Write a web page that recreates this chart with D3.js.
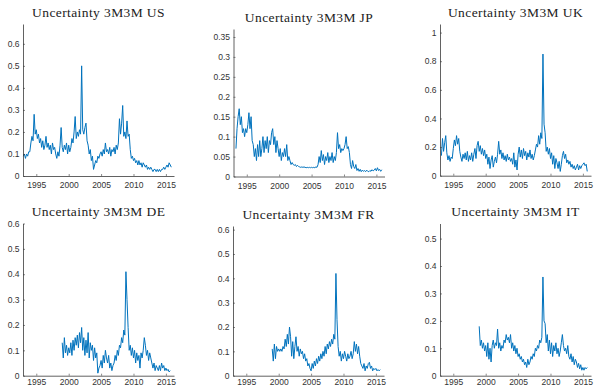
<!DOCTYPE html>
<html>
<head>
<meta charset="utf-8">
<script src="https://cdn.jsdelivr.net/npm/d3@7"></script>
<style>
  body { margin: 0; background: #fff; }
  svg { display: block; }
</style>
</head>
<body>
<svg id="chart" width="595" height="388"></svg>
<script>
// series sampled every two months (6 values per year)
const step = 1 / 6;

const titles = ['Uncertainty 3M3M US', 'Uncertainty 3M3M JP', 'Uncertainty 3M3M UK',
                'Uncertainty 3M3M DE', 'Uncertainty 3M3M FR', 'Uncertainty 3M3M IT'];
const startYears = [1993.0, 1993.33, 1993.17, 1999.0, 1999.0, 1999.0];
const yMax = [0.69, 0.37, 1.06, 0.6, 0.615, 0.555];
const yTicks = [
  [0, 0.1, 0.2, 0.3, 0.4, 0.5, 0.6],
  [0, 0.05, 0.1, 0.15, 0.2, 0.25, 0.3, 0.35],
  [0, 0.2, 0.4, 0.6, 0.8, 1],
  [0, 0.1, 0.2, 0.3, 0.4, 0.5, 0.6],
  [0, 0.1, 0.2, 0.3, 0.4, 0.5, 0.6],
  [0, 0.1, 0.2, 0.3, 0.4, 0.5]
];
const xTicks = [1995, 2000, 2005, 2010, 2015];
const xDomain = [1992.95, 2016.25];

const usValues = [
  0.09, 0.10, 0.08, 0.10, 0.09, 0.11,
  0.11, 0.15, 0.18, 0.16, 0.28, 0.19,
  0.21, 0.17, 0.19, 0.15, 0.17, 0.13,
  0.16, 0.12, 0.14, 0.18, 0.13, 0.15,
  0.12, 0.14, 0.10, 0.15, 0.12, 0.13,
  0.10, 0.08, 0.11, 0.09, 0.14, 0.22,
  0.13, 0.11, 0.14, 0.12, 0.15, 0.10,
  0.14, 0.11, 0.13, 0.17, 0.15, 0.20,
  0.27, 0.17, 0.20, 0.18, 0.21, 0.19,
  0.50, 0.21, 0.19, 0.22, 0.24, 0.16,
  0.14, 0.10, 0.12, 0.07, 0.09, 0.03,
  0.05, 0.07, 0.06, 0.09, 0.08, 0.10,
  0.11, 0.09, 0.12, 0.10, 0.15, 0.11,
  0.12, 0.10, 0.13, 0.09, 0.12, 0.11,
  0.13, 0.10, 0.14, 0.12, 0.15, 0.26,
  0.19, 0.24, 0.32, 0.18, 0.20, 0.17,
  0.25, 0.18, 0.19, 0.12, 0.08, 0.09,
  0.07, 0.08, 0.06, 0.07, 0.05, 0.07,
  0.05, 0.06, 0.04, 0.06, 0.05, 0.04,
  0.05, 0.03, 0.04, 0.03, 0.04, 0.03,
  0.02, 0.03, 0.03, 0.02, 0.03, 0.02,
  0.03, 0.02, 0.03, 0.03, 0.04, 0.03,
  0.04, 0.05, 0.04, 0.06, 0.05, 0.04
];

const jpValues = [
  0.07, 0.12, 0.15, 0.17,
  0.13, 0.15, 0.11, 0.12, 0.10, 0.12,
  0.11, 0.13, 0.16, 0.12, 0.15, 0.09,
  0.08, 0.05, 0.07, 0.04, 0.08, 0.05,
  0.09, 0.05, 0.07, 0.10, 0.06, 0.09,
  0.07, 0.10, 0.06, 0.09, 0.08, 0.11,
  0.12, 0.08, 0.10, 0.06, 0.09, 0.07,
  0.05, 0.07, 0.04, 0.06, 0.05, 0.07,
  0.05, 0.08, 0.04, 0.05, 0.04, 0.03,
  0.035, 0.03, 0.028, 0.03, 0.025, 0.028,
  0.025, 0.024, 0.023, 0.024, 0.023, 0.024,
  0.023, 0.022, 0.023, 0.022, 0.023, 0.022,
  0.023, 0.022, 0.023, 0.022, 0.024, 0.023,
  0.03, 0.05, 0.035, 0.065, 0.04, 0.055,
  0.03, 0.05, 0.04, 0.06, 0.035, 0.05,
  0.04, 0.06, 0.035, 0.05, 0.04, 0.06,
  0.11, 0.07, 0.08, 0.06, 0.07, 0.065,
  0.07, 0.08, 0.10, 0.07, 0.075, 0.06,
  0.03, 0.02, 0.04, 0.025, 0.02, 0.03,
  0.015, 0.02, 0.013, 0.018, 0.012, 0.016,
  0.013, 0.015, 0.012, 0.016, 0.013, 0.012,
  0.015, 0.013, 0.017, 0.014, 0.016, 0.02,
  0.014, 0.022, 0.015, 0.018, 0.013, 0.017
];

const ukValues = [
  0.14, 0.26, 0.17, 0.23, 0.28,
  0.16, 0.11, 0.14, 0.10, 0.13, 0.12,
  0.19, 0.25, 0.21, 0.28, 0.22, 0.26,
  0.17, 0.13, 0.10, 0.15, 0.12, 0.16,
  0.11, 0.17, 0.10, 0.14, 0.11, 0.16,
  0.10, 0.15, 0.19, 0.12, 0.21, 0.24,
  0.17, 0.21, 0.15, 0.19, 0.14, 0.18,
  0.12, 0.15, 0.08, 0.13, 0.05, 0.11,
  0.14, 0.06, 0.10, 0.13, 0.09, 0.15,
  0.24, 0.15, 0.18, 0.12, 0.16, 0.11,
  0.14, 0.10, 0.15, 0.11, 0.13, 0.10,
  0.12, 0.08, 0.16, 0.06, 0.11, 0.04,
  0.15, 0.20, 0.13, 0.18, 0.12, 0.19,
  0.14, 0.17, 0.11, 0.16, 0.13, 0.18,
  0.12, 0.15, 0.11, 0.14, 0.18, 0.22,
  0.20, 0.28, 0.22, 0.30, 0.26, 0.85,
  0.36, 0.30, 0.17, 0.20, 0.15, 0.19,
  0.12, 0.16, 0.08, 0.14, 0.05, 0.12,
  0.09, 0.05, 0.10, 0.03, 0.08, 0.14,
  0.17, 0.12, 0.15, 0.09, 0.11, 0.08,
  0.10, 0.06, 0.08, 0.05, 0.07, 0.04,
  0.06, 0.08, 0.04, 0.07, 0.05, 0.07,
  0.08, 0.09, 0.07, 0.08, 0.03
];

const deValues = [
  0.13, 0.07, 0.15, 0.09, 0.12, 0.08,
  0.11, 0.09, 0.13, 0.08, 0.14, 0.10,
  0.15, 0.12, 0.16, 0.11, 0.17, 0.13,
  0.19, 0.10, 0.15, 0.08, 0.14, 0.09,
  0.17, 0.07, 0.13, 0.10, 0.12, 0.06,
  0.11, 0.07, 0.09, 0.01, 0.03, 0.04,
  0.06, 0.03, 0.08, 0.05, 0.10, 0.07,
  0.05, 0.08, 0.03, 0.05, 0.02, 0.04,
  0.05, 0.08, 0.06, 0.10, 0.08, 0.12,
  0.11, 0.15, 0.13, 0.18, 0.16, 0.41,
  0.30, 0.19, 0.10, 0.12, 0.08, 0.11,
  0.07, 0.10, 0.05, 0.09, 0.06, 0.08,
  0.03, 0.09, 0.07, 0.10, 0.15, 0.12,
  0.08, 0.10, 0.06, 0.09, 0.07, 0.05,
  0.03, 0.05, 0.02, 0.04, 0.03, 0.02,
  0.04, 0.02, 0.05, 0.03, 0.04, 0.02,
  0.03, 0.02, 0.025, 0.015, 0.02
];

const frValues = [
  0.11, 0.06, 0.13, 0.07, 0.12, 0.10,
  0.11, 0.10, 0.11, 0.10, 0.12, 0.11,
  0.15, 0.12, 0.17, 0.13, 0.20, 0.16,
  0.08, 0.14, 0.07, 0.12, 0.16, 0.10,
  0.12, 0.08, 0.11, 0.09, 0.10, 0.07,
  0.09, 0.06, 0.07, 0.04, 0.05, 0.03,
  0.02, 0.05, 0.03, 0.06, 0.04, 0.07,
  0.05, 0.08, 0.06, 0.09, 0.07, 0.10,
  0.08, 0.12, 0.09, 0.13, 0.11, 0.14,
  0.12, 0.15, 0.13, 0.17, 0.15, 0.42,
  0.23, 0.12, 0.08, 0.10, 0.06, 0.09,
  0.07, 0.10, 0.08, 0.06, 0.09, 0.07,
  0.08, 0.10, 0.07, 0.09, 0.14, 0.10,
  0.13, 0.09, 0.12, 0.08, 0.05, 0.04,
  0.03, 0.05, 0.02, 0.04, 0.03, 0.05,
  0.055, 0.03, 0.04, 0.02, 0.03, 0.025,
  0.03, 0.02, 0.025, 0.02, 0.025
];

const itValues = [
  0.18, 0.11, 0.13, 0.10, 0.12, 0.09,
  0.11, 0.07, 0.12, 0.06, 0.10, 0.05,
  0.11, 0.13, 0.10, 0.12, 0.11, 0.17,
  0.10, 0.12, 0.09, 0.11, 0.10, 0.13,
  0.12, 0.15, 0.13, 0.14, 0.12, 0.15,
  0.10, 0.12, 0.09, 0.11, 0.08, 0.10,
  0.07, 0.08, 0.06, 0.07, 0.05, 0.06,
  0.04, 0.05, 0.03, 0.06, 0.04, 0.05,
  0.07, 0.06, 0.08, 0.07, 0.10, 0.09,
  0.11, 0.10, 0.13, 0.12, 0.14, 0.36,
  0.20, 0.19, 0.12, 0.15, 0.09, 0.13,
  0.08, 0.12, 0.07, 0.11, 0.09, 0.12,
  0.08, 0.10, 0.07, 0.09, 0.12, 0.15,
  0.11, 0.09, 0.10, 0.08, 0.11, 0.07,
  0.06, 0.08, 0.05, 0.07, 0.04, 0.06,
  0.05, 0.03, 0.045, 0.025, 0.04, 0.02,
  0.03, 0.02, 0.03, 0.025, 0.03
];

const seriesValues = [usValues, jpValues, ukValues, deValues, frValues, itValues];

// plot boxes, in pixels (labelY = baseline offset of the year labels)
const boxes = [
  { left: 23,    top: 24,    bottom: 176,   width: 151, labelY: 12 },
  { left: 233.5, top: 29,    bottom: 176.5, width: 151, labelY: 12 },
  { left: 440,   top: 24,    bottom: 175.7, width: 151, labelY: 12 },
  { left: 23,    top: 223.5, bottom: 375.7, width: 151, labelY: 9.3 },
  { left: 233,   top: 226,   bottom: 375.7, width: 151, labelY: 9.3 },
  { left: 440,   top: 223.5, bottom: 375.7, width: 151, labelY: 9.3 }
];

const axisColor = '#3a3a3a';
const lineColor = '#0072BD';
const svg = d3.select('#chart');

boxes.forEach((b, k) => {
  const x = d3.scaleLinear().domain(xDomain).range([b.left, b.left + b.width]);
  const y = d3.scaleLinear().domain([0, yMax[k]]).range([b.bottom, b.top]);
  const g = svg.append('g');

  const points = seriesValues[k].map((v, i) => [startYears[k] + i * step, v]);

  g.append('path')
    .datum(points)
    .attr('fill', 'none')
    .attr('stroke', lineColor)
    .attr('stroke-width', 1.0)
    .attr('stroke-linejoin', 'round')
    .attr('d', d3.line().x(d => x(d[0])).y(d => y(d[1])));

  // x axis (ticks pointing inward)
  const xAxis = g.append('g')
    .attr('transform', `translate(0,${b.bottom})`)
    .call(d3.axisTop(x).tickValues(xTicks).tickSize(2).tickSizeOuter(0).tickFormat(d3.format('d')));
  xAxis.select('.domain').attr('stroke', axisColor).attr('stroke-width', 0.8);
  xAxis.selectAll('.tick line').attr('stroke', axisColor).attr('stroke-width', 0.6);
  xAxis.selectAll('.tick text')
    .attr('y', b.labelY)
    .attr('dy', 0)
    .attr('fill', '#333')
    .style('font-family', '"Liberation Sans", Arial, sans-serif')
    .style('font-size', '8.5px');

  // y axis
  const yAxis = g.append('g')
    .attr('transform', `translate(${b.left},0)`)
    .call(d3.axisRight(y).tickValues(yTicks[k]).tickSize(2).tickSizeOuter(0).tickFormat(d3.format('~g')));
  yAxis.select('.domain').attr('stroke', axisColor).attr('stroke-width', 0.8);
  yAxis.selectAll('.tick line').attr('stroke', axisColor).attr('stroke-width', 0.6);
  yAxis.selectAll('.tick text')
    .attr('x', -3.5)
    .attr('text-anchor', 'end')
    .attr('fill', '#333')
    .style('font-family', '"Liberation Sans", Arial, sans-serif')
    .style('font-size', '8.5px');

  g.append('text')
    .attr('x', b.left + b.width / 2)
    .attr('y', b.top - 7.5)
    .attr('text-anchor', 'middle')
    .attr('fill', '#222')
    .style('font-family', '"Liberation Serif", "Times New Roman", serif')
    .style('font-size', '13.5px')
    .style('letter-spacing', '0.4px')
    .text(titles[k]);
});
</script>
</body>
</html>
